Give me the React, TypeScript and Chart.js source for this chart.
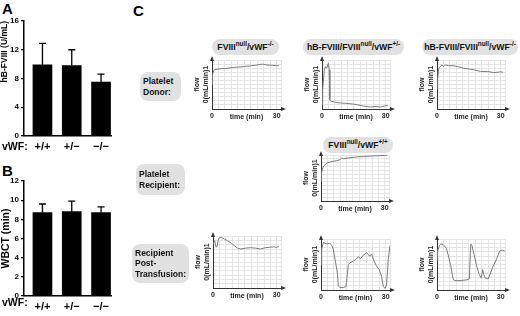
import React, { useEffect, useRef } from "react";
import { Chart, registerables } from "chart.js";
Chart.register(...registerables);

const FONT = "'Liberation Sans', Arial, Helvetica, sans-serif";

// ---------- Panel A / B data ----------
const genotypeLabels = ["+/+", "+/\u2212", "\u2212/\u2212"];
const hbFviiiMean = [9.9, 9.8, 7.5];
const hbFviiiUpper = [12.9, 12.0, 8.6];
const wbctMean = [8.7, 8.8, 8.7];
const wbctUpper = [9.6, 9.9, 9.3];

// ---------- Panel C data (time in min, normalised flow) ----------
const donorNullTime = [0, 0.2, 1, 3, 6, 10, 15, 20, 22, 23.5, 25, 28, 30, 31];
const donorNullFlow = [0.6, 0.85, 0.96, 0.98, 0.99, 1.02, 1.04, 1.07, 1.09, 1.1, 1.08, 1.07, 1.06, 1.06];

const donorHetTime = [0, 0.3, 1.1, 1.6, 2.2, 2.7, 3.0, 3.4, 3.7, 4.3, 6, 8.3, 11, 14.8, 17, 19.6, 22.8, 25, 27.6, 30, 31];
const donorHetFlow = [0.1, 0.47, 0.96, 1.04, 1.0, 1.08, 1.12, 0.96, 0.23, 0.19, 0.17, 0.15, 0.14, 0.12, 0.1, 0.07, 0.05, 0.06, 0.05, 0.08, 0.08];

const donorKoTime = [0, 0.3, 0.8, 1.6, 2.4, 3.2, 3.9, 5.5, 7.9, 12.6, 17.4, 20.5, 23.7, 26.8, 30, 31];
const donorKoFlow = [0.5, 0.72, 1.0, 1.04, 1.08, 1.04, 1.08, 1.06, 1.06, 1.0, 0.96, 0.92, 0.92, 0.89, 0.91, 0.9];

const recipientTime = [0, 0.15, 0.6, 1.2, 2.8, 4.4, 5.9, 7.5, 9.0, 9.8, 10.6, 13.7, 16.8, 19.9, 23, 26, 30, 31];
const recipientFlow = [0.5, 0.7, 0.82, 0.91, 0.99, 1.02, 1.04, 1.05, 1.08, 1.12, 1.1, 1.13, 1.15, 1.16, 1.17, 1.18, 1.19, 1.19];

const postWtTime = [0, 0.8, 1.5, 2, 2.6, 3.8, 5.4, 6.9, 8.5, 10, 11.5, 13.1, 15.4, 17.7, 20, 22.3, 24.6, 26.9, 28.5, 30, 31];
const postWtFlow = [1.01, 1.09, 0.94, 0.98, 1.14, 1.17, 1.13, 1.09, 1.04, 0.98, 0.92, 0.9, 0.92, 0.93, 0.92, 0.9, 0.93, 0.94, 0.95, 0.94, 0.96];

const postHetTime = [0, 0.3, 1.1, 1.9, 2.6, 3.9, 4.9, 5.7, 6.5, 7.6, 8.0, 8.8, 10.4, 11.6, 12.7, 13.4, 15, 16.2, 17.3, 18.4, 19.6, 21.2, 22.4, 23.5, 24.6, 25.8, 27, 28.1, 28.9, 29.7, 30.4, 31.2, 32];
const postHetFlow = [0.6, 0.96, 1.12, 1.1, 1.08, 1.1, 1.06, 0.96, 0.72, 0.4, 0.1, 0.06, 0.06, 0.08, 0.6, 0.64, 0.68, 0.72, 0.78, 0.74, 0.82, 0.88, 0.8, 0.84, 0.68, 0.56, 0.48, 0.32, 0.08, 0.04, 0.12, 0.72, 1.05];

const postKoTime = [0, 0.3, 1.1, 1.9, 3.1, 4.4, 5.4, 6.5, 7.5, 8.1, 10.9, 14, 15.2, 15.9, 16.5, 17.4, 18.7, 19.9, 20.8, 21.5, 22.1, 22.7, 24.1, 25.2, 26.4, 28, 29.5, 30.8, 31.9];
const postKoFlow = [0.7, 0.92, 1.04, 1.08, 1.06, 0.98, 0.8, 0.56, 0.28, 0.22, 0.22, 0.24, 0.26, 1.08, 1.04, 0.84, 0.56, 0.36, 0.28, 0.48, 0.36, 0.28, 0.26, 0.4, 0.56, 0.72, 0.92, 0.94, 0.92];

const timeGridValues = [0, 3, 6, 9, 12, 15, 18, 21, 24, 27, 30, 32];
const timeTickLabels = [0, 30];
const flowAxisTitle = ["flow", "0(mL/min)1"];

// ---------- helpers ----------
const arrowPlugin = {
  id: "axisArrows",
  afterDraw(chart: any) {
    const { ctx, chartArea } = chart;
    const { left, top, right, bottom } = chartArea;
    ctx.save();
    ctx.fillStyle = "#333";
    ctx.beginPath();
    ctx.moveTo(left, top - 4);
    ctx.lineTo(left - 2, top + 1);
    ctx.lineTo(left + 2, top + 1);
    ctx.closePath();
    ctx.fill();
    ctx.beginPath();
    ctx.moveTo(right + 5, bottom);
    ctx.lineTo(right, bottom - 2);
    ctx.lineTo(right, bottom + 2);
    ctx.closePath();
    ctx.fill();
    ctx.restore();
  },
};

function FlowChart(props: {
  axisX: number;
  plotTop: number;
  plotBottom: number;
  plotRight: number;
  times: number[];
  flow: number[];
}) {
  const { axisX, plotTop, plotBottom, plotRight, times, flow } = props;
  const ref = useRef<HTMLCanvasElement>(null);
  const padTop = 5,
    padRight = 7,
    yW = 20,
    xH = 12;
  const w = yW + (plotRight - axisX) + padRight;
  const h = padTop + (plotBottom - plotTop) + xH;
  useEffect(() => {
    const small = { family: FONT, size: 7, weight: "bold" as const };
    const chart = new Chart(ref.current!, {
      type: "line",
      data: {
        datasets: [
          {
            data: times.map((t, i) => ({ x: t, y: flow[i] })),
            borderColor: "#7c7c7c",
            borderWidth: 1,
            pointRadius: 0,
            tension: 0,
            fill: false,
          },
        ],
      },
      options: {
        responsive: false,
        animation: false,
        events: [],
        layout: { padding: { top: padTop, right: padRight, left: 0, bottom: 0 } },
        plugins: { legend: { display: false }, tooltip: { enabled: false } },
        scales: {
          x: {
            type: "linear",
            min: 0,
            max: 32,
            afterBuildTicks: (s: any) => {
              s.ticks = timeGridValues.map((v) => ({ value: v }));
            },
            afterFit: (s: any) => {
              s.height = xH;
            },
            ticks: {
              autoSkip: false,
              maxRotation: 0,
              minRotation: 0,
              padding: 3,
              font: small,
              color: "#222",
              callback: (v: any) => (timeTickLabels.includes(Number(v)) ? String(v) : ""),
            },
            grid: { color: "#e4e4e4", drawTicks: false },
            border: { color: "#333", width: 1 },
            title: { display: true, text: "time (min)", font: small, color: "#222", padding: 0 },
          },
          y: {
            min: 0,
            max: 1.2,
            afterFit: (s: any) => {
              s.width = yW;
            },
            ticks: { stepSize: 0.1, display: false },
            grid: { color: "#e4e4e4", drawTicks: false },
            border: { color: "#333", width: 1 },
            title: {
              display: true,
              text: flowAxisTitle,
              font: small,
              color: "#222",
              padding: { top: 1, bottom: 0 },
            },
          },
        },
      } as any,
      plugins: [arrowPlugin],
    });
    return () => chart.destroy();
  }, []);
  return (
    <canvas
      ref={ref}
      width={w}
      height={h}
      style={{ position: "absolute", left: axisX - yW, top: plotTop - padTop, width: w, height: h }}
    />
  );
}

function BarPanel(props: {
  top: number;
  means: number[];
  upper: number[];
  yMax: number;
  yStep: number;
  yTitle: string;
  titleSize: number;
  titleAlign: "start" | "center" | "end";
}) {
  const { top, means, upper, yMax, yStep, yTitle, titleSize, titleAlign } = props;
  const ref = useRef<HTMLCanvasElement>(null);
  const w = 117,
    h = 142;
  useEffect(() => {
    const errPlugin = {
      id: "errBars",
      afterDatasetsDraw(chart: any) {
        const meta = chart.getDatasetMeta(0);
        const ys = chart.scales.y;
        const ctx = chart.ctx;
        ctx.save();
        ctx.strokeStyle = "#000";
        ctx.lineWidth = 1.3;
        meta.data.forEach((bar: any, i: number) => {
          const yt = ys.getPixelForValue(upper[i]);
          ctx.beginPath();
          ctx.moveTo(bar.x, bar.y);
          ctx.lineTo(bar.x, yt);
          ctx.moveTo(bar.x - 3.5, yt);
          ctx.lineTo(bar.x + 3.5, yt);
          ctx.stroke();
        });
        ctx.restore();
      },
    };
    const chart = new Chart(ref.current!, {
      type: "bar",
      data: {
        datasets: [
          {
            data: means.map((m, i) => ({ x: i, y: m })),
            backgroundColor: "#000",
            borderWidth: 0,
            barThickness: 19,
          },
        ],
      },
      options: {
        responsive: false,
        animation: false,
        events: [],
        layout: { padding: { top: 7, right: 6, left: 0, bottom: 0 } },
        plugins: { legend: { display: false }, tooltip: { enabled: false } },
        scales: {
          x: {
            type: "linear",
            offset: false,
            min: -0.63,
            max: 2.34,
            afterBuildTicks: (s: any) => {
              s.ticks = genotypeLabels.map((_, i) => ({ value: i }));
            },
            afterFit: (s: any) => {
              s.height = 20;
            },
            ticks: {
              autoSkip: false,
              maxRotation: 0,
              padding: 4,
              font: { family: FONT, size: 11, weight: "bold" },
              color: "#000",
              callback: (v: any) => genotypeLabels[v] ?? "",
            },
            grid: { display: false, drawTicks: false, tickLength: 0, offset: false },
            border: { color: "#000", width: 1.5 },
          },
          y: {
            min: 0,
            max: yMax,
            afterFit: (s: any) => {
              s.width = 24;
            },
            ticks: {
              stepSize: yStep,
              padding: 2,
              font: { family: FONT, size: 8, weight: "bold" },
              color: "#000",
            },
            grid: { drawOnChartArea: false, tickLength: 3, color: "#000", lineWidth: 1.2 },
            border: { color: "#000", width: 1.5 },
            title: {
              display: true,
              text: yTitle,
              align: titleAlign,
              font: { family: FONT, size: titleSize, weight: "bold" },
              color: "#000",
              padding: 0,
            },
          },
        },
      } as any,
      plugins: [errPlugin],
    });
    return () => chart.destroy();
  }, []);
  return (
    <canvas
      ref={ref}
      width={w}
      height={h}
      style={{ position: "absolute", left: 0, top, width: w, height: h }}
    />
  );
}

function GreyBox(props: {
  left: number;
  top: number;
  width: number;
  height: number;
  center?: boolean;
  fontSize?: number;
  children: React.ReactNode;
}) {
  const { left, top, width, height, center, fontSize = 8.5, children } = props;
  return (
    <div
      style={{
        position: "absolute",
        left,
        top,
        width,
        height,
        boxSizing: "border-box",
        background: "#e1e1e1",
        borderRadius: 8,
        display: "flex",
        alignItems: "center",
        justifyContent: center ? "center" : "flex-start",
        paddingLeft: center ? 0 : 3,
        fontFamily: FONT,
        fontWeight: "bold",
        fontSize,
        lineHeight: "10.5px",
        color: "#111",
        whiteSpace: "nowrap",
      }}
    >
      <div>{children}</div>
    </div>
  );
}

const supStyle: React.CSSProperties = { fontSize: 6.3, verticalAlign: "top", lineHeight: "7px", position: "relative", top: -2 };

function Letter(props: { left: number; top: number; text: string }) {
  return (
    <div
      style={{
        position: "absolute",
        left: props.left,
        top: props.top,
        fontFamily: FONT,
        fontWeight: "bold",
        fontSize: 15,
        lineHeight: "15px",
        color: "#000",
      }}
    >
      {props.text}
    </div>
  );
}

function VwfLabel(props: { top: number }) {
  return (
    <div
      style={{
        position: "absolute",
        left: 2,
        top: props.top,
        fontFamily: FONT,
        fontWeight: "bold",
        fontSize: 10.5,
        lineHeight: "11px",
        color: "#000",
      }}
    >
      vWF:
    </div>
  );
}

export default function App() {
  return (
    <div
      style={{
        position: "absolute",
        left: 0,
        top: 0,
        width: 520,
        height: 316,
        overflow: "hidden",
        background: "#fff",
      }}
    >
      <Letter left={2} top={1} text="A" />
      <Letter left={2} top={163} text="B" />
      <Letter left={133} top={3} text="C" />

      <BarPanel
        top={14}
        means={hbFviiiMean}
        upper={hbFviiiUpper}
        yMax={16}
        yStep={4}
        yTitle="hB-FVIII (U/mL)"
        titleSize={8.5}
        titleAlign="end"
      />
      <VwfLabel top={141} />
      <BarPanel
        top={174}
        means={wbctMean}
        upper={wbctUpper}
        yMax={12}
        yStep={2}
        yTitle="WBCT (min)"
        titleSize={10.5}
        titleAlign="center"
      />
      <VwfLabel top={297} />

      {/* row labels */}
      <GreyBox left={140} top={72} width={41} height={29}>
        Platelet
        <br />
        Donor:
      </GreyBox>
      <GreyBox left={136} top={164} width={49} height={31}>
        Platelet
        <br />
        Recipient:
      </GreyBox>
      <GreyBox left={132} top={244} width={57} height={39}>
        Recipient
        <br />
        Post-
        <br />
        Transfusion:
      </GreyBox>

      {/* chart titles */}
      <GreyBox left={212} top={39} width={67} height={16} center fontSize={8.7}>
        FVIII<span style={supStyle}>null</span>/vWF<span style={supStyle}>-/-</span>
      </GreyBox>
      <GreyBox left={303} top={39} width={101} height={16} center fontSize={8.7}>
        hB-FVIII/FVIII<span style={supStyle}>null</span>/vWF<span style={supStyle}>+/-</span>
      </GreyBox>
      <GreyBox left={422} top={39} width={96} height={16} center fontSize={8.7}>
        hB-FVIII/FVIII<span style={supStyle}>null</span>/vWF<span style={supStyle}>-/-</span>
      </GreyBox>
      <GreyBox left={323} top={137} width={70} height={16} center fontSize={8.7}>
        FVIII<span style={supStyle}>null</span>/vWF<span style={supStyle}>+/+</span>
      </GreyBox>

      {/* flow charts */}
      <FlowChart axisX={212} plotTop={60} plotBottom={109} plotRight={281} times={donorNullTime} flow={donorNullFlow} />
      <FlowChart axisX={322} plotTop={60} plotBottom={109} plotRight={390} times={donorHetTime} flow={donorHetFlow} />
      <FlowChart axisX={437} plotTop={60} plotBottom={109} plotRight={505} times={donorKoTime} flow={donorKoFlow} />
      <FlowChart axisX={321} plotTop={155} plotBottom={201} plotRight={389} times={recipientTime} flow={recipientFlow} />
      <FlowChart axisX={213} plotTop={236} plotBottom={288} plotRight={281} times={postWtTime} flow={postWtFlow} />
      <FlowChart axisX={321} plotTop={239} plotBottom={290} plotRight={390} times={postHetTime} flow={postHetFlow} />
      <FlowChart axisX={437} plotTop={239} plotBottom={290} plotRight={505} times={postKoTime} flow={postKoFlow} />
    </div>
  );
}
